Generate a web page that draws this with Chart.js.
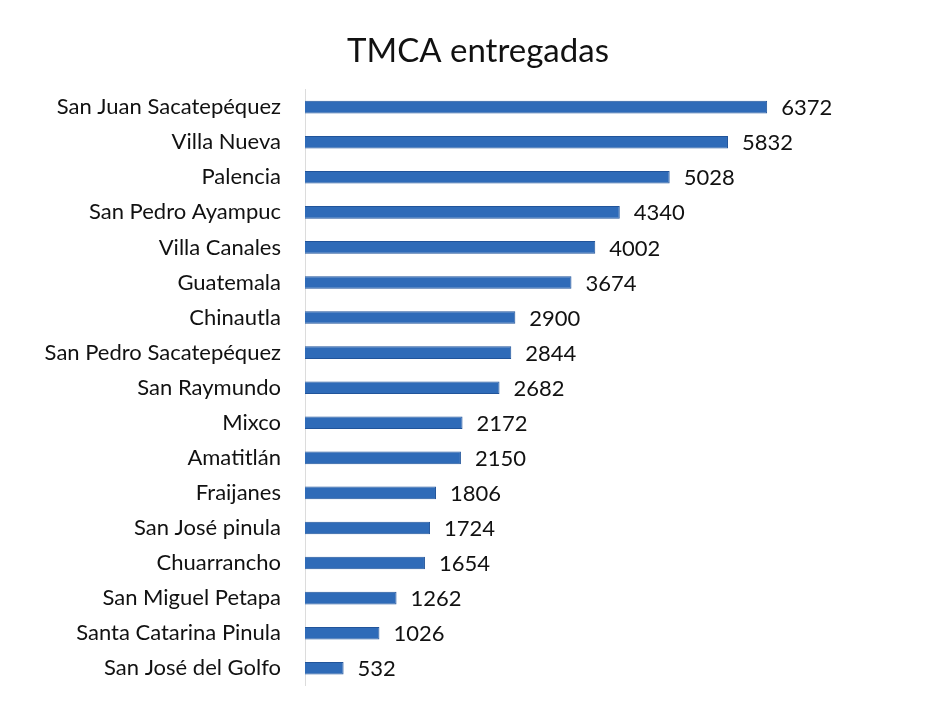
<!DOCTYPE html>
<html>
<head>
<meta charset="utf-8">
<script src="https://cdn.jsdelivr.net/npm/chart.js@4/dist/chart.umd.min.js"></script>
<style>
  html, body { margin: 0; padding: 0; background: #fff; }
  #wrap { width: 940px; height: 723px; position: relative; }
</style>
</head>
<body>
<div id="wrap"><canvas id="tmcaChart"></canvas></div>
<script>
const chartTitle = 'TMCA entregadas';

const municipios = [
    'San Juan Sacatepéquez', 'Villa Nueva', 'Palencia', 'San Pedro Ayampuc',
    'Villa Canales', 'Guatemala', 'Chinautla', 'San Pedro Sacatepéquez',
    'San Raymundo', 'Mixco', 'Amatitlán', 'Fraijanes', 'San José pinula',
    'Chuarrancho', 'San Miguel Petapa', 'Santa Catarina Pinula', 'San José del Golfo'
];

const entregadas = [
    6372, 5832, 5028, 4340, 4002, 3674, 2900, 2844,
    2682, 2172, 2150, 1806, 1724, 1654, 1262, 1026, 532
];

const FONT = 'Lato, "Open Sans", sans-serif';

// etiquetas de valor al final de cada barra
const valueLabels = {
    id: 'valueLabels',
    afterDatasetsDraw(chart) {
        const ctx = chart.ctx;
        const meta = chart.getDatasetMeta(0);
        ctx.save();
        ctx.font = '22px ' + FONT;
        ctx.fillStyle = '#111';
        ctx.textAlign = 'left';
        ctx.textBaseline = 'middle';
        meta.data.forEach((bar, i) => {
            ctx.fillText(String(entregadas[i]), bar.x + 14, bar.y + 1);
        });
        ctx.restore();
    }
};

const ctx = document.getElementById('tmcaChart').getContext('2d');
new Chart(ctx, {
    type: 'bar',
    data: {
        labels: municipios,
        datasets: [{
            data: entregadas,
            backgroundColor: '#2f6bb8',
            borderColor: '#21549a',
            borderWidth: 1,
            barPercentage: 0.36,
            categoryPercentage: 1
        }]
    },
    options: {
        indexAxis: 'y',
        responsive: true,
        maintainAspectRatio: false,
        animation: false,
        layout: { padding: { left: 20, right: 4, top: 0, bottom: 37 } },
        plugins: {
            legend: { display: false },
            tooltip: { enabled: false },
            title: {
                display: true,
                text: chartTitle,
                color: '#111',
                font: { family: FONT, size: 33, weight: 'normal', lineHeight: 1.2 },
                padding: { top: 32, bottom: 18 }
            }
        },
        scales: {
            x: {
                display: false,
                min: 0,
                max: 8700
            },
            y: {
                afterFit(scale) { scale.width = 285; },
                grid: { display: false, drawTicks: false },
                border: { display: true, color: '#dcdcdc', width: 1 },
                ticks: {
                    color: '#111',
                    padding: 24,
                    font: { family: FONT, size: 22 }
                }
            }
        }
    },
    plugins: [valueLabels]
});
</script>
</body>
</html>
